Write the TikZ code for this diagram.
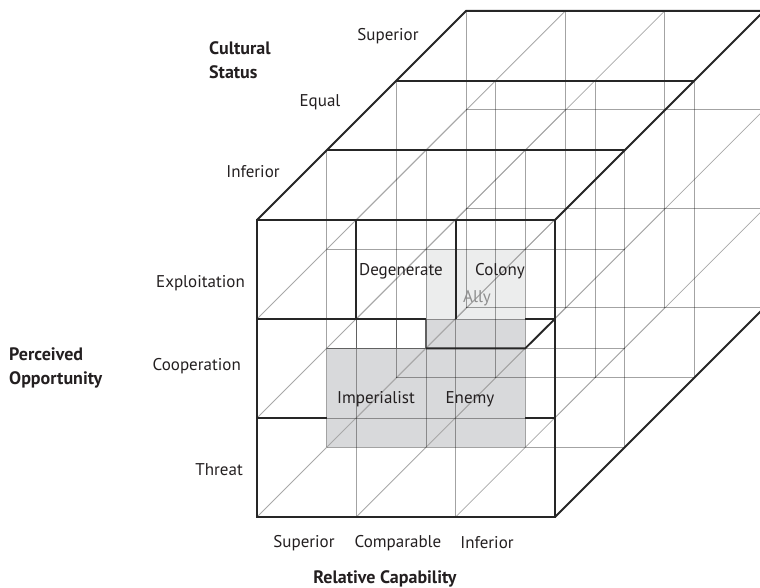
\documentclass[tikz,border=0pt]{standalone}
\usepackage{fontspec}
\setmainfont{PT Sans}
\usetikzlibrary{calc}
\definecolor{shadelight}{HTML}{ECEDED}
\definecolor{shadedark}{HTML}{D8D9DB}
\definecolor{ink}{HTML}{231F20}
\definecolor{allyink}{HTML}{8E8E8E}
\begin{document}
\begin{tikzpicture}[x=1pt,y=-1pt,
  gridline/.style={draw=black, draw opacity=0.36, line width=0.9pt},
  depthline/.style={draw=black!34, line width=0.8pt},
  midline/.style={draw=black!62, line width=1.2pt},
  edgeline/.style={draw=black!85, line width=1.9pt},
  lbl/.style={text=ink, font=\fontsize{17}{24}\selectfont, inner sep=0pt},
  head/.style={text=ink, font=\bfseries\fontsize{18}{24}\selectfont, inner sep=0pt, align=left}]
\useasboundingbox (0,0) rectangle (760,588);

% lattice points (i = capability, j = opportunity, k = cultural status)
\foreach \i in {0,...,3}{\foreach \j in {0,...,3}{\foreach \k in {0,...,3}{
  \coordinate (p\i\j\k) at ({257+99.3*\i+69.7*\k},{517-99*\j-69.7*\k});
}}}
\coordinate (sa) at (426,319);
\coordinate (sb) at (525.3,319);

% shaded cells
\fill[shadelight] (p121) rectangle (sb);
\fill[shadedark] (p001) rectangle (p211);
\fill[shadedark] (sa) rectangle (p211);

% depth lines
\foreach \i in {0,...,3}{\foreach \j in {0,...,3}{
  \draw[depthline] (p\i\j0) -- (p\i\j3);
}}
% horizontal lines of each layer
\foreach \j/\k in {0/0,1/0,2/0,3/0,0/1,1/1,2/1,3/1,0/2,3/2,0/3,1/3,2/3,3/3}{
  \draw[gridline] (p0\j\k) -- (p3\j\k);
}
% vertical lines of each layer
\foreach \i in {0,...,3}{\foreach \k in {0,...,3}{
  \draw[gridline] (p\i0\k) -- (p\i3\k);
}}

% medium strokes between the slabs
\draw[midline] (p120) -- (p120 |- p011);
\draw[midline] (p012 |- p020) -- (p012 |- p011);
\draw[midline] (sa) -- (p111);
\draw[midline] (p011) -- (p111);

% heavy strokes: outer edges and slab boundaries
\draw[edgeline] (p000) -- (p300) -- (p330) -- (p030) -- cycle;
\draw[edgeline] (p020) -- (sa);
\draw[edgeline] (sb) -- (p320);
\draw[edgeline] (p010) -- (p011 |- p010);
\draw[edgeline] (p211 |- p010) -- (p310);
\draw[edgeline] (p120) -- (p130);
\draw[edgeline] (p220) -- (p230);
\draw[edgeline] (p030) -- (p033) -- (p333) -- (p330);
\draw[edgeline] (p031) -- (p331);
\draw[edgeline] (p032) -- (p332);
\draw[edgeline] (p300) -- (p303);
\draw[edgeline] (p111) -- (p211) -- (p320);

% axis titles
\node[head, anchor=west] (cultural) at (209,60) {Cultural\\Status};
\node[head, anchor=west] (opportunity) at (9,368) {Perceived\\Opportunity};
\node[head] (capability) at (385,579) {Relative Capability};

% cultural status levels
\node[lbl] (cs-sup) at (388,36) {Superior};
\node[lbl] (cs-eq) at (320,102) {Equal};
\node[lbl] (cs-inf) at (253,172) {Inferior};

% perceived opportunity levels
\node[lbl, anchor=east] (po-exp) at (245,283) {Exploitation};
\node[lbl, anchor=east] (po-coop) at (241,366) {Cooperation};
\node[lbl, anchor=east] (po-thr) at (243,470) {Threat};

% relative capability levels
\node[lbl] (rc-sup) at (304,543) {Superior};
\node[lbl] (rc-comp) at (398,543) {Comparable};
\node[lbl] (rc-inf) at (487,543) {Inferior};

% cell names
\node[lbl] (degenerate) at (401,271) {Degenerate};
\node[lbl] (colony) at (500,271) {Colony};
\node[lbl, text=allyink] (ally) at (477,298) {Ally};
\node[lbl] (imperialist) at (376,399) {Imperialist};
\node[lbl] (enemy) at (470,399) {Enemy};
\end{tikzpicture}
\end{document}
